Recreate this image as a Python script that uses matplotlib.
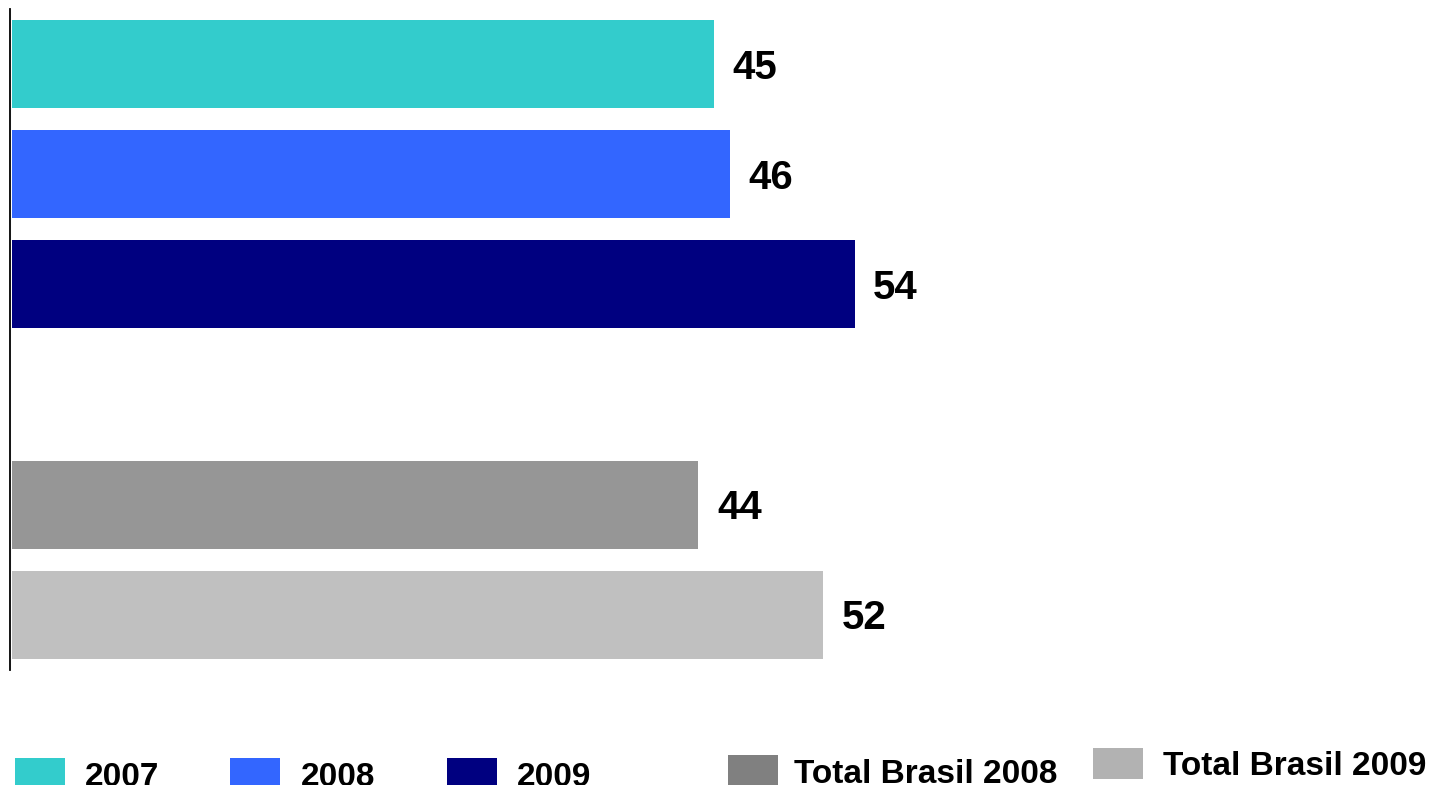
import matplotlib.pyplot as plt
from matplotlib.patches import Rectangle

# bar data (top to bottom), with an empty slot between groups
bar_labels = ["2007", "2008", "2009", "", "Total Brasil 2008", "Total Brasil 2009"]
bar_values = [45, 46, 54, None, 44, 52]
bar_colors = ["#33CCCC", "#3366FF", "#000080", None, "#969696", "#C0C0C0"]

legend_labels = ["2007", "2008", "2009", "Total Brasil 2008", "Total Brasil 2009"]
legend_colors = ["#33CCCC", "#3366FF", "#000080", "#808080", "#B2B2B2"]

W, H = 1435, 785


def main():
    plt.rcParams["font.family"] = ["Liberation Sans", "DejaVu Sans"]
    fig = plt.figure(figsize=(W / 100, H / 100), dpi=100)

    # axes box in pixels: left spine at x=10, from y=9 to y=670
    left, top, bottom = 10, 9, 670
    ax = fig.add_axes([left / W, 1 - bottom / H, (W - left) / W, (bottom - top) / H])

    scale = 15.61  # px per unit
    ax.set_xlim(0, (W - left) / scale)
    ax.set_ylim(len(bar_values) - 0.5, -0.5)

    for i, (v, c) in enumerate(zip(bar_values, bar_colors)):
        if v is None:
            continue
        ax.barh(i, v, height=0.8, color=c, left=0.1)
        ax.annotate(str(v), xy=(v + 0.1, i), xytext=(13.5, -2.5),
                    textcoords="offset points", va="center", ha="left",
                    fontsize=29, fontweight="bold", color="black")

    for s in ["top", "right", "bottom"]:
        ax.spines[s].set_visible(False)
    ax.spines["left"].set_linewidth(1.3)
    ax.set_xticks([])
    ax.set_yticks([])

    # hand-placed legend (boxes at uneven heights, as in the original)
    box_x = [15, 230, 447, 728, 1093]
    box_top = [758, 758, 758, 755, 748]
    text_x = [85, 301, 517, 794, 1163]
    text_base = [786, 786, 786, 783, 775]
    for lab, col, bx, bt, tx, tb in zip(legend_labels, legend_colors,
                                        box_x, box_top, text_x, text_base):
        fig.add_artist(Rectangle((bx / W, 1 - (bt + 31) / H), 50 / W, 31 / H,
                                 transform=fig.transFigure, color=col, lw=0))
        fig.text(tx / W, 1 - tb / H, lab, fontsize=24, fontweight="bold",
                 ha="left", va="baseline")

    fig.savefig("out.png", dpi=100)


if __name__ == "__main__":
    main()
